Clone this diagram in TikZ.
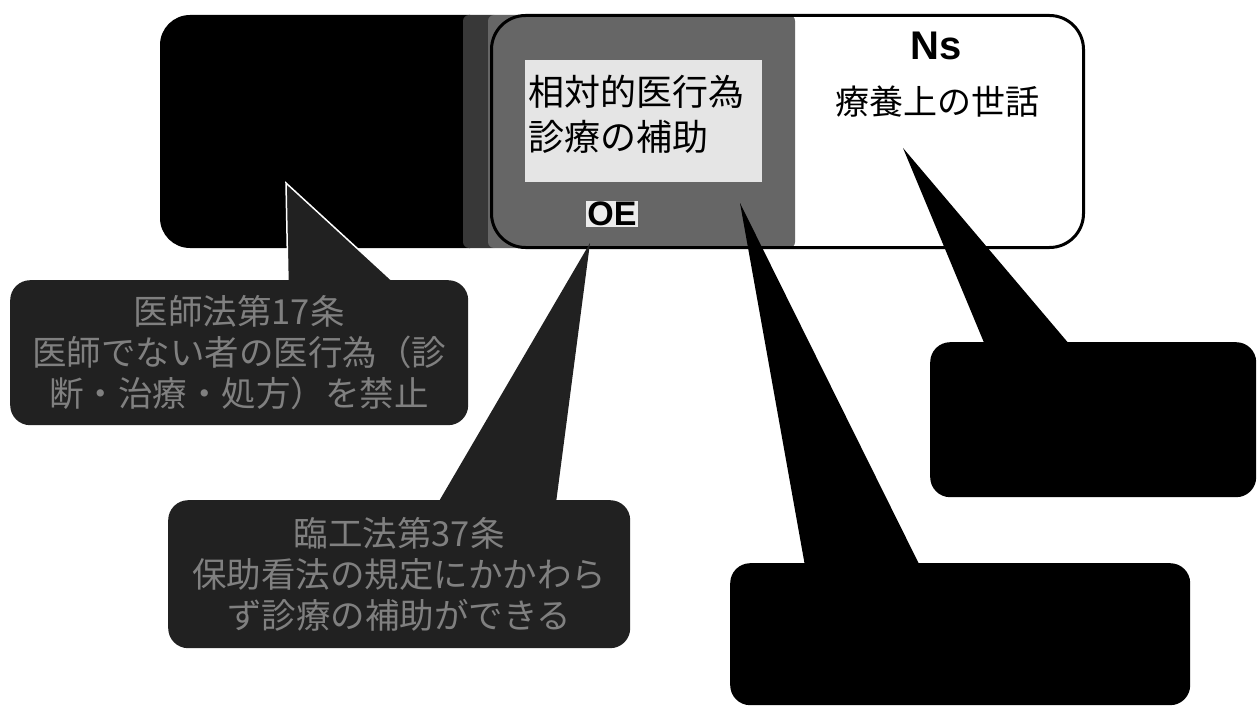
\documentclass[tikz,border=0pt]{standalone}
\usepackage{fontspec}
\setmainfont{Liberation Sans}
\newfontfamily\jp{Noto Sans CJK JP}
\definecolor{halftone}{gray}{0.40}
\definecolor{halfdark}{gray}{0.22}
\definecolor{innerlight}{gray}{0.90}
\definecolor{calgray}{gray}{0.13}
\definecolor{caltext}{gray}{0.50}
\begin{document}
\begin{tikzpicture}[x=1pt,y=-1pt,
  bigjp/.style={font=\jp\fontsize{36}{45}\selectfont},
  caljp/.style={font=\jp\fontsize{34.5}{41}\selectfont, text=caltext, align=center},
  calbox/.style={rounded corners=20pt, inner sep=0pt, anchor=north west},
]
\fill[white] (0,0) rectangle (1259,706);
\useasboundingbox (0,0) rectangle (1259,706);

% doctor area (black) and overlap (halftone)
\fill[black, rounded corners=30pt] (160,15) rectangle (500,248);
\fill[halfdark, rounded corners=6pt] (463,15) rectangle (500,248);
\fill[halftone, rounded corners=6pt] (488,15) rectangle (795,248);
\fill[innerlight] (525,60) rectangle (762,182);

% nurse box outline
\node[draw=black, line width=3pt, rounded corners=34pt, minimum width=592pt, minimum height=232pt, anchor=north west, inner sep=0pt] (ns) at (490,14) {};

% texts in the upper boxes
\node[bigjp, align=left, anchor=west, inner sep=0pt] (rel) at (528,114) {相対的医行為\\診療の補助};
\node[font=\bfseries\fontsize{34}{38}\selectfont, fill=gray!15, inner sep=1pt] (oe) at (612,214) {OE};
\node[font=\bfseries\fontsize{40}{44}\selectfont, inner sep=0pt] (nslabel) at (936,46) {Ns};
\node[font=\jp\fontsize{34}{44}\selectfont, inner sep=0pt] (care) at (937,102) {療養上の世話};

% callout 1 (doctor)
\coordinate (t1) at (286,183);
\coordinate (b1a) at (288,284);
\coordinate (b1b) at (396,284);
\fill[calgray] (t1) -- (b1a) -- (b1b) -- cycle;
\draw[white, line width=1.5pt] (b1a) -- (t1) -- (b1b);
\node[calbox, fill=calgray, minimum width=458pt, minimum height=145pt] (c1) at (10,280) {};
\node[caljp] (c1text) at (c1.center) {医師法第17条\\医師でない者の医行為（診\\断・治療・処方）を禁止};

% callout 2 (OE)
\coordinate (t2) at (590,243);
\fill[calgray] (t2) -- (438,503) -- (556,503) -- cycle;
\node[calbox, fill=calgray, minimum width=462pt, minimum height=148pt] (c2) at (168,500) {};
\node[caljp] (c2text) at (c2.center) {臨工法第37条\\保助看法の規定にかかわら\\ず診療の補助ができる};

% callout 3 (relative medical act)
\coordinate (t3) at (740,203);
\fill[black] (t3) -- (805,566) -- (920,566) -- cycle;
\node[calbox, fill=black, minimum width=460pt, minimum height=142pt] (c3) at (730,563) {};

% callout 4 (Ns)
\coordinate (t4) at (903,148);
\fill[black] (t4) -- (985,345) -- (1070,345) -- cycle;
\node[calbox, fill=black, minimum width=326pt, minimum height=155pt] (c4) at (930,342) {};
\end{tikzpicture}
\end{document}
